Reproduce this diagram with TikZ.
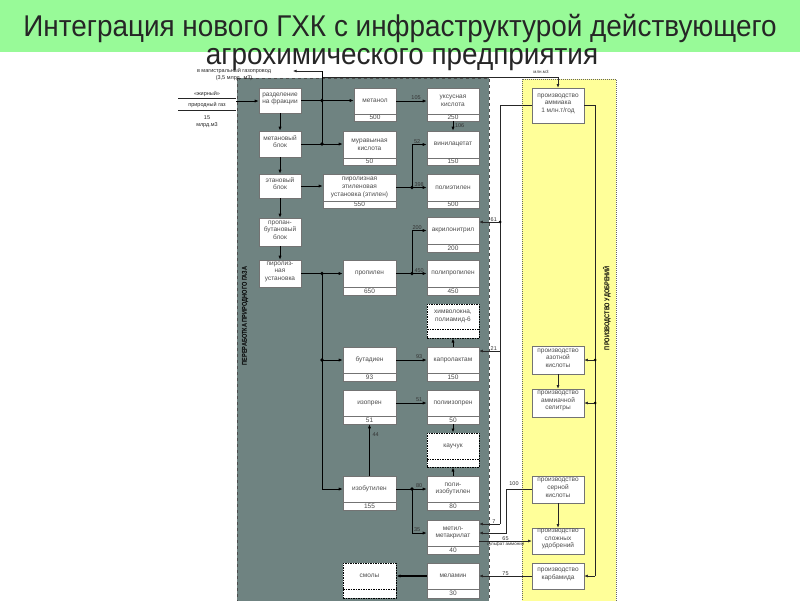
\documentclass[tikz,border=0pt]{standalone}
\usepackage{fontspec}
\setmainfont{Liberation Sans}
\newfontfamily\titlefont[FakeStretch=0.93]{Liberation Sans}
\newfontfamily\narrowfont[FakeStretch=0.8]{Liberation Sans}
\usetikzlibrary{arrows.meta,fit}
\definecolor{bandgreen}{RGB}{152,250,152}
\definecolor{panelgray}{RGB}{111,131,129}
\definecolor{panelyellow}{RGB}{255,255,153}
\tikzset{
  pbox/.style={draw=black!55, fill=white, line width=0.6pt, inner sep=0pt},
  dbox/.style={draw=black, fill=white, line width=1pt, dash pattern=on 1.5pt off 1pt, inner sep=0pt},
  btxt/.style={font=\fontsize{6.5}{7.6}\selectfont, text=black!70, align=center, inner sep=0pt},
  flow/.style={line width=0.9pt, -{Latex[length=4pt,width=3.2pt]}},
  wire/.style={line width=0.9pt},
  tflow/.style={line width=0.55pt, draw=black!85, -{Latex[length=3.5pt,width=2.8pt]}},
  twire/.style={line width=0.55pt, draw=black!85},
  jdot/.style={circle, fill=black, inner sep=0pt, minimum size=3.6pt},
  qty/.style={font=\fontsize{5.5}{6}\selectfont, text=black!80, inner sep=0.6pt},
  note/.style={font=\fontsize{5.5}{7}\selectfont, text=black!85, align=center, inner sep=0pt},
  ttl/.style={font=\titlefont\fontsize{30}{32}\selectfont, text=black!85, inner sep=0pt, anchor=base},
  vlab/.style={rotate=90, font=\narrowfont\bfseries\fontsize{7}{8}\selectfont, text=black, inner sep=0pt},
}
\newcommand\pbx[9][pbox]{%
  \node[#1, fit={(#3,#4) (#5,#6)}] (#2) {};
  \draw[#1] (#3,#7) -- (#5,#7);
  \node[btxt] (#2-t) at ({(#3+#5)/2},{(#4+#7)/2}) {#8};
  \node[btxt] (#2-n) at ({(#3+#5)/2},{(#7+#6)/2}) {#9};
}
\newcommand\sbx[7][pbox]{%
  \node[#1, btxt, fit={(#3,#4) (#5,#6)}] (#2) {#7};
}
\begin{document}
\begin{tikzpicture}[x=1pt,y=-1pt]
\useasboundingbox (0,0) rectangle (800,600);
\fill[white] (0,0) rectangle (800,600);
% title
\fill[bandgreen] (0,0) rectangle (800,52);
\node[ttl] (t1) at (400,36) {Интеграция нового ГХК с инфраструктурой действующего};
\node[ttl] (t2) at (402,64) {агрохимического предприятия};
% panels
\draw[fill=panelgray, draw=black!70, dashed, line width=0.6pt] (237,78) rectangle (489,602);
\draw[fill=panelyellow, draw=black!60, dash pattern=on 1pt off 1pt, line width=0.8pt] (522,79) rectangle (616,602);
\node[vlab] (lab1) at (245,316) {ПЕРЕРАБОТКА ПРИРОДНОГО ГАЗА};
\node[vlab] (lab2) at (607,308) {ПРОИЗВОДСТВО УДОБРЕНИЙ};
% column 1
\sbx{razd}{259}{88}{301}{113}{разделение\\на фракции}
\sbx{metb}{259}{131}{301}{157}{метановый\\блок}
\sbx{etb}{259}{174}{301}{198}{этановый\\блок}
\sbx{prb}{259}{218}{301}{246}{пропан-\\бутановый\\блок}
\sbx{pirol}{259}{260}{301}{287}{пиролиз-\\ная\\установка}
% column 2
\pbx{metanol}{354}{88}{396}{121}{114}{метанол}{500}
\pbx{murav}{343}{131}{396}{165}{158}{муравьиная\\кислота}{50}
\pbx{etilen}{323}{174}{396}{208}{201}{пиролизная\\этиленовая\\установка (этилен)}{550}
\pbx{propilen}{343}{260}{396}{295}{287}{пропилен}{650}
\pbx{butadien}{343}{347}{396}{381}{373}{бутадиен}{93}
\pbx{izopren}{343}{390}{396}{424}{416}{изопрен}{51}
\pbx{izobut}{343}{476}{396}{510}{502}{изобутилен}{155}
\pbx[dbox]{smoly}{343}{563}{396}{598}{589}{смолы}{}
% column 3
\pbx{uksus}{427}{88}{479}{121}{114}{уксусная\\кислота}{250}
\pbx{vinil}{427}{131}{479}{165}{158}{винилацетат}{150}
\pbx{polietilen}{427}{174}{479}{208}{201}{полиэтилен}{500}
\pbx{akril}{427}{217}{479}{252}{244}{акрилонитрил}{200}
\pbx{polipropilen}{427}{260}{479}{295}{287}{полипропилен}{450}
\pbx[dbox]{himvol}{427}{304}{479}{338}{329}{химволокна,\\полиамид-6}{}
\pbx{kaprol}{427}{347}{479}{381}{373}{капролактам}{150}
\pbx{poliizopren}{427}{390}{479}{424}{416}{полиизопрен}{50}
\pbx[dbox]{kauchuk}{427}{433}{479}{467}{459}{каучук}{}
\pbx{poliizobut}{427}{476}{479}{510}{502}{поли-\\изобутилен}{80}
\pbx{mma}{427}{520}{479}{554}{546}{метил-\\метакрилат}{40}
\pbx{melamin}{427}{563}{479}{598}{589}{меламин}{30}
% yellow column
\sbx{ammiak}{532}{88}{584}{123}{производство\\аммиака\\1 млн.т/год}
\sbx{azot}{532}{346}{584}{374}{производство\\азотной\\кислоты}
\sbx{selitra}{532}{389}{584}{417}{производство\\аммиачной\\селитры}
\sbx{sernaya}{532}{476}{584}{503}{производство\\серной\\кислоты}
\sbx{slozhn}{532}{528}{584}{554}{производство\\сложных\\удобрений}
\sbx{karbamid}{532}{563}{584}{589}{производство\\карбамида}
% input
\node[note] (zh) at (207,94) {«жирный»};
\node[note] (pg) at (207,105.5) {природный газ};
\draw[twire] (178,98.5) -- (236,98.5);
\draw[twire] (178,110) -- (236,110);
\node[note] (q15) at (207,122) {15\\млрд.м3};
\coordinate (gin) at (236,101);
\draw[flow] (gin) -- (gin -| razd.west);
% gas out and ammonia feed
\node[note] (gout) at (234,74.5) {в магистральный газопровод\\(3,5 млрд. м3)};
\coordinate (gtop) at (322,71);
\coordinate (gasarr) at (293,71);
\coordinate (amline) at (322,77);
\node[qty, font=\fontsize{4.5}{5}\selectfont] (lam) at (541,72) {млн.м3};
\draw[tflow] (amline) -- (amline -| ammiak.north) -- (ammiak.north);
\draw[wire] (gtop) -- (gtop |- metb.east);
\draw[tflow] (gtop) -- (gasarr);
\node[jdot] (d1) at (gtop |- razd.east) {};
\node[jdot] (d2) at (gtop |- metb.east) {};
% column 1 links
\draw[flow] (razd) -- (metb);
\draw[flow] (metb) -- (etb);
\draw[flow] (etb) -- (prb);
\draw[flow] (prb) -- (pirol);
\draw[flow] (razd.east) -- (razd.east -| metanol.west);
\draw[flow] (metb.east) -- (metb.east -| murav.west);
\draw[flow] (etb.east) -- (etb.east -| etilen.west);
\draw[flow] (pirol.east) -- (pirol.east -| propilen.west);
\node[jdot] (d3) at (gtop |- pirol.east) {};
\draw[flow] (d3.center) -- (gtop |- izobut-t) -- (izobut-t -| izobut.west);
\node[jdot] (d4) at (gtop |- butadien-t) {};
\draw[flow] (d4.center) -- (butadien-t -| butadien.west);
% column 2 -> 3
\coordinate (xj) at (412,0);
\draw[flow] (metanol.east |- uksus-t) -- (uksus-t -| uksus.west) node[qty, above, pos=0.65] {105};
\draw[flow] (uksus) -- (vinil) node[qty, right, pos=0.5, xshift=1pt] {106};
\draw[flow] (etilen-t -| etilen.east) -- (etilen-t -| polietilen.west) node[qty, above, pos=0.75] {398};
\node[jdot] (d5) at (xj |- etilen-t) {};
\draw[flow] (d5.center) -- (xj |- vinil-t) -- (vinil-t -| vinil.west) node[qty, above, pos=0.35] {52};
\draw[flow] (propilen-t -| propilen.east) -- (propilen-t -| polipropilen.west) node[qty, above, pos=0.75] {450};
\node[jdot] (d6) at (xj |- propilen-t) {};
\draw[flow] (d6.center) -- (xj |- akril-t) -- (akril-t -| akril.west) node[qty, above, pos=0.35] {200};
\draw[flow] (butadien-t -| butadien.east) -- (butadien-t -| kaprol.west) node[qty, above, pos=0.75] {93};
\draw[flow] (izopren-t -| izopren.east) -- (izopren-t -| poliizopren.west) node[qty, above, pos=0.75] {51};
\draw[flow] (izobut.north) -- (izopren.south) node[qty, right, pos=0.8, xshift=2pt] {44};
\draw[flow] (izobut-t -| izobut.east) -- (izobut-t -| poliizobut.west) node[qty, above, pos=0.75] {80};
\node[jdot] (d7) at (xj |- izobut-t) {};
\draw[flow] (d7.center) -- (xj |- mma-t) -- (mma-t -| mma.west) node[qty, above, pos=0.35] {35};
\draw[flow] (kaprol) -- (himvol);
\draw[flow] (poliizopren) -- (kauchuk);
\draw[flow] (poliizobut) -- (kauchuk);
\draw[flow, line width=1.3pt] (melamin-t -| melamin.west) -- (melamin-t -| smoly.east);
% links from the fertiliser plant
\coordinate (a1) at (500,222);
\coordinate (a2) at (500,351);
\coordinate (a3) at (500,524);
\draw[twire] (ammiak.west) -- (ammiak.west -| a1) -- (a3);
\node[jdot, minimum size=3pt] (d8) at (a1) {};
\draw[tflow] (a1) -- (a1 -| akril.east) node[qty, above, pos=0.3] {61};
\draw[tflow] (a2) -- (a2 -| kaprol.east) node[qty, above, pos=0.3] {21};
\draw[tflow] (a3) -- (a3 -| mma.east) node[qty, above, pos=0.3] {7};
\coordinate (s1) at (506,533);
\draw[tflow] (sernaya.west) -- (sernaya.west -| s1) -- (s1) -- (s1 -| mma.east);
\node[qty] (l100) at (514,484) {100};
\draw[tflow] (mma.east |- slozhn.west) -- (slozhn.west)
  node[qty, above, pos=0.5] {65}
  node[qty, below, pos=0.5, font=\fontsize{4.5}{5}\selectfont] {сульфат аммония};
\draw[tflow] (karbamid.west) -- (karbamid.west -| melamin.east) node[qty, above, pos=0.5] {75};
\draw[tflow] (azot) -- (selitra);
\draw[tflow] (sernaya) -- (slozhn);
\coordinate (xr) at (595,0);
\draw[twire] (ammiak.east) -- (ammiak.east -| xr) -- (xr |- karbamid.east);
\draw[tflow] (xr |- karbamid.east) -- (karbamid.east);
\node[jdot, minimum size=3pt] (d9) at (xr |- azot.east) {};
\draw[tflow] (d9.center) -- (azot.east);
\node[jdot, minimum size=3pt] (d10) at (xr |- selitra.east) {};
\draw[tflow] (d10.center) -- (selitra.east);
\end{tikzpicture}
\end{document}
